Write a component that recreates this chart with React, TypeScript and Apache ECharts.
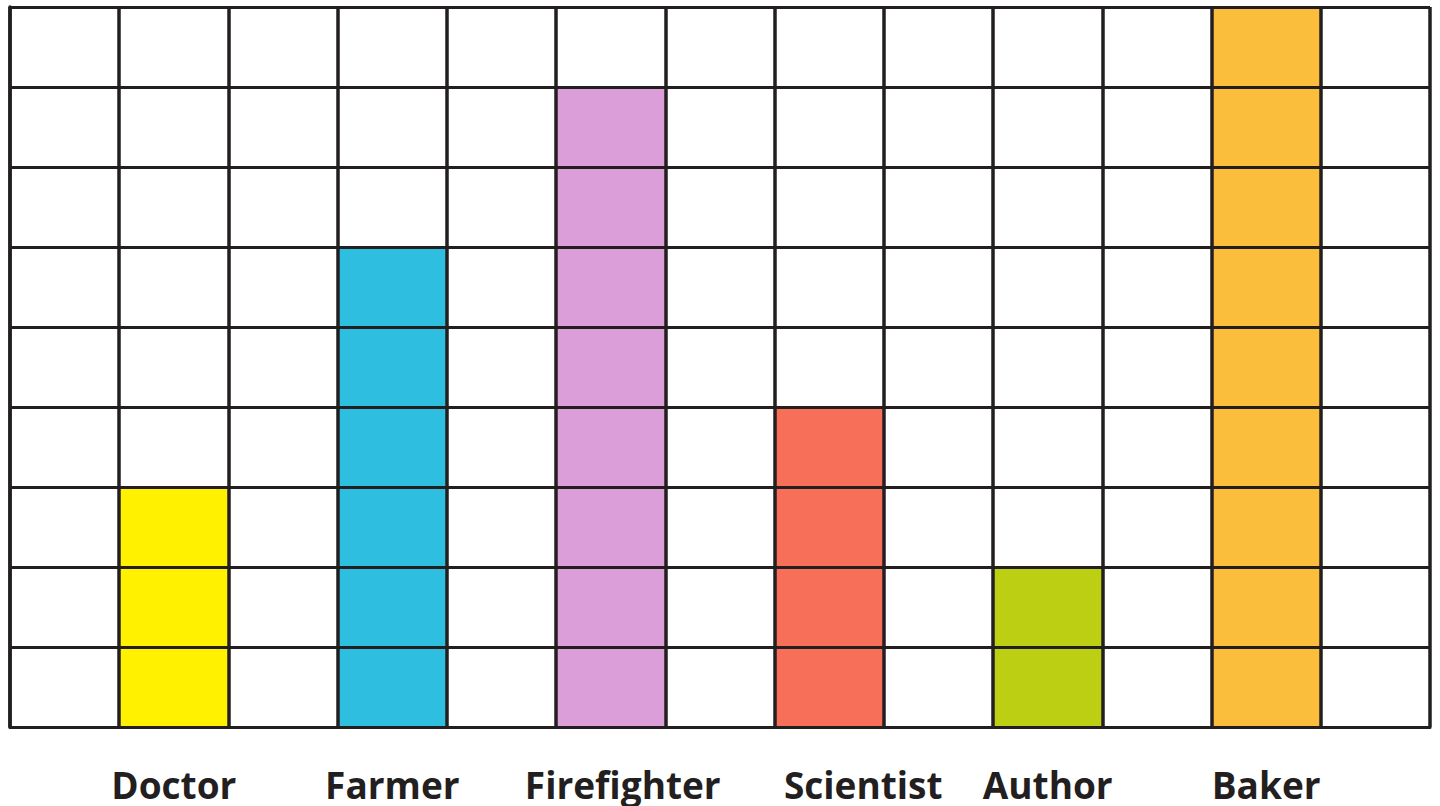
import React, { useEffect, useRef } from "react";
import * as echarts from "echarts";

const jobs = ["Doctor", "Farmer", "Firefighter", "Scientist", "Author", "Baker"];
const counts = [3, 6, 8, 4, 2, 9];
const barColors = ["#FFF100", "#2EBFE0", "#DC9ED8", "#F76F58", "#BDCF12", "#FBBD3C"];
const labelShift = [0, 0, 24, 68, 0, 0];
const yTicks = [0, 1, 2, 3, 4, 5, 6, 7, 8, 9];

const LINE = "#231f20";

export default function App() {
  const ref = useRef<HTMLDivElement>(null);
  useEffect(() => {
    if (!ref.current) return;
    const chart = echarts.init(ref.current, undefined, { renderer: "svg" });
    const cats: any[] = [];
    const data: any[] = [];
    jobs.forEach((j, i) => {
      cats.push("");
      data.push("-");
      cats.push({
        value: j,
        textStyle: { padding: [0, 0, 0, labelShift[i]] },
      });
      data.push({ value: counts[i], itemStyle: { color: barColors[i] } });
    });
    cats.push("");
    data.push("-");

    chart.setOption({
      animation: false,
      backgroundColor: "#ffffff",
      grid: {
        left: 10,
        right: 10,
        top: 7,
        bottom: 79,
        containLabel: false,
        outerBoundsMode: "none",
      },
      xAxis: {
        type: "category",
        data: cats,
        boundaryGap: true,
        z: 10,
        axisLine: { show: true, lineStyle: { color: LINE, width: 3 } },
        axisTick: { show: false },
        splitLine: { show: true, interval: 0, lineStyle: { color: LINE, width: 3.5 } },
        axisLabel: {
          interval: 0,
          margin: 42,
          lineHeight: 30,
          color: "#231f20",
          fontFamily: "Open Sans",
          fontWeight: "bold",
          fontSize: 37,
        },
      },
      yAxis: {
        type: "value",
        min: yTicks[0],
        max: yTicks[yTicks.length - 1],
        interval: 1,
        z: 10,
        axisLine: { show: true, lineStyle: { color: LINE, width: 3.5 } },
        axisTick: { show: false },
        axisLabel: { show: false },
        splitLine: { show: true, lineStyle: { color: LINE, width: 3 } },
      },
      series: [
        {
          type: "bar",
          data,
          barWidth: "100%",
          barGap: "0%",
          z: 2,
        },
      ],
    });
    return () => chart.dispose();
  }, []);
  return (
    <div
      ref={ref}
      style={{ position: "fixed", left: 0, top: 0, width: 1440, height: 806 }}
    />
  );
}
